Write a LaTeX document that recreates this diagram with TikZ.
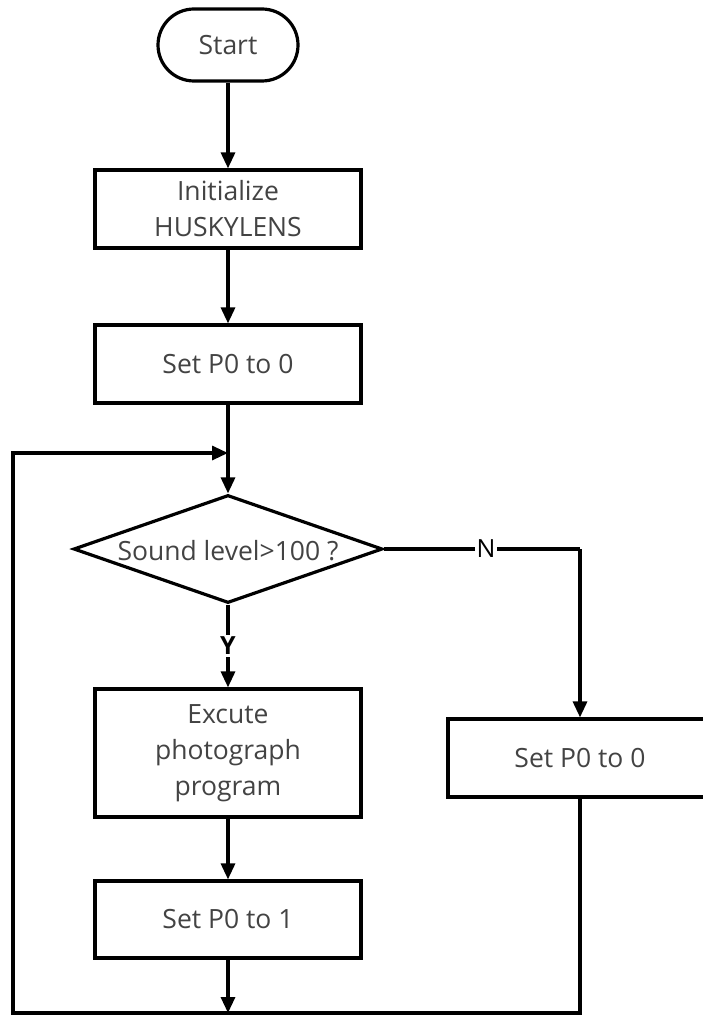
\documentclass[tikz,border=0pt]{standalone}
\usepackage{fontspec}
\setmainfont{Open Sans}
\usetikzlibrary{arrows.meta,shapes.geometric}
\definecolor{txt}{HTML}{434343}
\tikzset{
  base/.style={draw=black, line width=3.2pt, text=txt, font=\fontsize{26.5}{36}\selectfont, align=center, inner sep=0pt},
  procbox/.style={base, rectangle, minimum width=266pt},
  termbox/.style={base, rectangle, rounded corners=36pt, minimum width=140pt, minimum height=72pt},
  decbox/.style={base, diamond, minimum width=309pt, minimum height=108pt},
  conn/.style={line width=3.2pt, draw=black},
  arr/.style={conn, -{Triangle[width=14pt,length=16pt]}},
  yn/.style={fill=white, inner sep=2pt, text=black, font=\fontsize{25}{28}\selectfont}
}
\begin{document}
\begin{tikzpicture}[x=1pt,y=-1pt]
\useasboundingbox (0,0) rectangle (703,1016);
\clip (0,0) rectangle (703,1016);
\node[termbox] (start) at (228,45) {Start};
\node[procbox, minimum height=78pt] (init) at (228,209) {Initialize\\HUSKYLENS};
\node[procbox, minimum height=78pt] (set0) at (228,364) {Set P0 to 0};
\coordinate (join) at (228,453);
\node[decbox] (dec) at (228,549) {};
\node[text=txt, font=\fontsize{26.5}{36}\selectfont] (dectext) at (228,551) {Sound level>100 ?};
\node[procbox, minimum height=128pt] (exec) at (228,753) {Excute\\photograph\\program};
\node[procbox, minimum height=77pt] (set1) at (228,919.5) {Set P0 to 1};
\node[procbox, minimum height=78pt, minimum width=264pt] (rset) at (580,758) {Set P0 to 0};
\coordinate (ncorner) at (580,549);
\coordinate (bright) at (580,1013);
\coordinate (bmid) at (228,1013);
\coordinate (bleft) at (13,1013);
\coordinate (tleft) at (13,453);

\draw[arr] (start) -- (init);
\draw[arr] (init) -- (set0);
\draw[arr] (set0) -- (dec.north);
\draw[arr] (dec.south) -- node[yn, font=\bfseries\fontsize{25}{28}\selectfont, pos=0.5] (ylab) {Y} (exec.north);
\draw[conn] (dec.east) -- node[yn, pos=0.52] (nlab) {N} (ncorner);
\draw[arr] (ncorner) -- (rset.north);
\draw[arr] (exec) -- (set1);
\draw[arr] (set1) -- (bmid);
\draw[arr] (rset.south) -- (bright) -- (bleft) -- (tleft) -- (join);
\end{tikzpicture}
\end{document}
